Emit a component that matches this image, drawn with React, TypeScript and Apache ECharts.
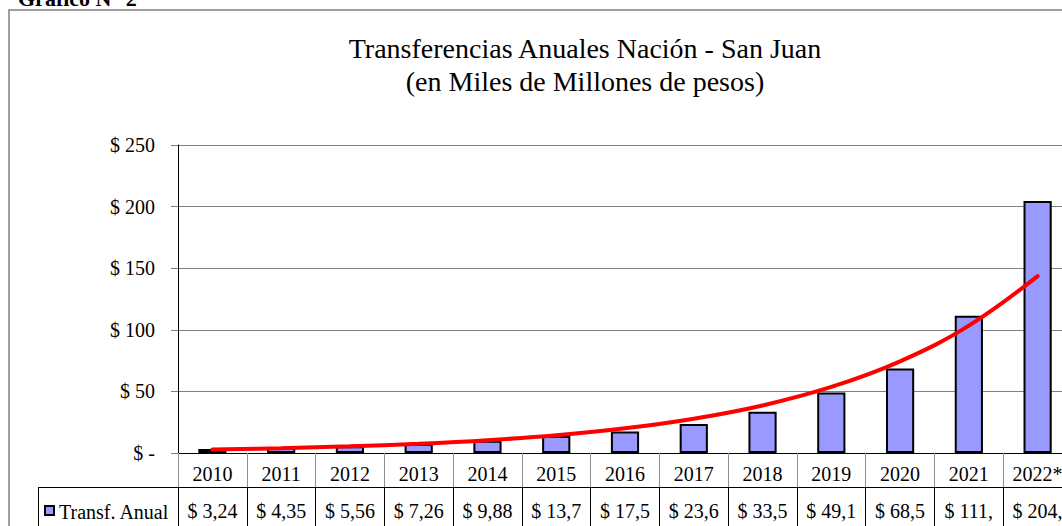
import React, { useEffect, useRef } from "react";
import * as echarts from "echarts";

const years = ["2010", "2011", "2012", "2013", "2014", "2015", "2016", "2017", "2018", "2019", "2020", "2021", "2022*"];
const transfers = [3.24, 4.35, 5.56, 7.26, 9.88, 13.7, 17.5, 23.6, 33.5, 49.1, 68.5, 111.5, 204.5];
const tableLabels = ["$ 3,24", "$ 4,35", "$ 5,56", "$ 7,26", "$ 9,88", "$ 13,7", "$ 17,5", "$ 23,6", "$ 33,5", "$ 49,1", "$ 68,5", "$ 111,", "$ 204,"];
const trend = [2.8, 3.9, 5.4, 7.5, 10.4, 14.4, 20.0, 27.8, 38.6, 53.6, 74.4, 103.4, 143.6];
const yTicks = { min: 0, max: 250, interval: 50 };
const seriesName = "Transf. Anual";
const titleLines = ["Transferencias Anuales Nación - San Juan", "(en Miles de Millones de pesos)"];

const FONT = "Liberation Serif";

export default function App() {
  const ref = useRef<HTMLDivElement>(null);
  useEffect(() => {
    if (!ref.current) return;
    const chart = echarts.init(ref.current, null, { renderer: "svg" });
    chart.setOption({
      animation: false,
      backgroundColor: "#ffffff",
      textStyle: { fontFamily: FONT },
      grid: { left: 178, top: 145, width: 894, height: 308 },
      xAxis: [
        {
          type: "category",
          data: years,
          position: "bottom",
          axisLine: { show: true, lineStyle: { color: "#000", width: 1 } },
          axisTick: { show: true, length: 34, interval: 0, lineStyle: { color: "#909090", width: 1 } },
          axisLabel: { interval: 0, margin: 11, fontSize: 20, color: "#000", fontFamily: FONT },
          splitLine: { show: false },
        },
        {
          type: "category",
          data: tableLabels,
          position: "bottom",
          offset: 34,
          axisLine: { show: true, lineStyle: { color: "#000", width: 1 } },
          axisTick: { show: true, length: 50, interval: 0, lineStyle: { color: "#000", width: 1 } },
          axisLabel: { interval: 0, margin: 14, fontSize: 20, color: "#000", fontFamily: FONT },
          splitLine: { show: false },
        },
      ],
      yAxis: {
        type: "value",
        min: yTicks.min,
        max: yTicks.max,
        interval: yTicks.interval,
        axisLine: { show: true, lineStyle: { color: "#000", width: 1 } },
        axisTick: { show: true, length: 7, lineStyle: { color: "#808080" } },
        axisLabel: {
          margin: 23,
          fontSize: 20,
          color: "#000",
          fontFamily: FONT,
          formatter: (v: number) => (v === 0 ? "$ -" : "$ " + v),
        },
        splitLine: { show: true, lineStyle: { color: "#808080", width: 1 } },
      },
      series: [
        {
          name: seriesName,
          type: "bar",
          data: transfers,
          xAxisIndex: 0,
          barWidth: "41%",
          itemStyle: { color: "#9999FF", borderColor: "#000", borderWidth: 2 },
        },
        {
          name: "Tendencia",
          type: "line",
          data: trend,
          xAxisIndex: 0,
          smooth: 0.4,
          showSymbol: false,
          symbol: "none",
          lineStyle: { color: "#FF0000", width: 4, cap: "round" },
          z: 5,
        },
      ],
      graphic: [
        {
          type: "rect",
          shape: { x: 9, y: 10, width: 1300, height: 700 },
          style: { fill: "none", stroke: "#808080", lineWidth: 1.5 },
          silent: true,
          z: -10,
        },
        {
          type: "text",
          x: 18,
          y: 9,
          style: { text: "Gráfico N° 2", fontFamily: FONT, fontSize: 22, fontWeight: "bold", fill: "#000", verticalAlign: "bottom" },
        },
        {
          type: "text",
          x: 585,
          y: 48,
          style: { text: titleLines[0], fontFamily: FONT, fontSize: 28, fill: "#000", align: "center", verticalAlign: "middle" },
        },
        {
          type: "text",
          x: 585,
          y: 81,
          style: { text: titleLines[1], fontFamily: FONT, fontSize: 28, fill: "#000", align: "center", verticalAlign: "middle" },
        },
        {
          type: "line",
          shape: { x1: 38, y1: 487.5, x2: 178, y2: 487.5 },
          style: { stroke: "#000", lineWidth: 1 },
        },
        {
          type: "line",
          shape: { x1: 38.5, y1: 487, x2: 38.5, y2: 540 },
          style: { stroke: "#000", lineWidth: 1 },
        },
        {
          type: "rect",
          shape: { x: 45, y: 506, width: 9, height: 9 },
          style: { fill: "#9999FF", stroke: "#000", lineWidth: 2 },
        },
        {
          type: "text",
          x: 59,
          y: 512,
          style: { text: seriesName, fontFamily: FONT, fontSize: 20, fill: "#000", verticalAlign: "middle" },
        },
      ],
    });
    return () => chart.dispose();
  }, []);
  return (
    <div style={{ position: "fixed", left: 0, top: 0, width: 1062, height: 526, overflow: "hidden", background: "#fff" }}>
      <div ref={ref} style={{ width: 1130, height: 560 }} />
    </div>
  );
}
